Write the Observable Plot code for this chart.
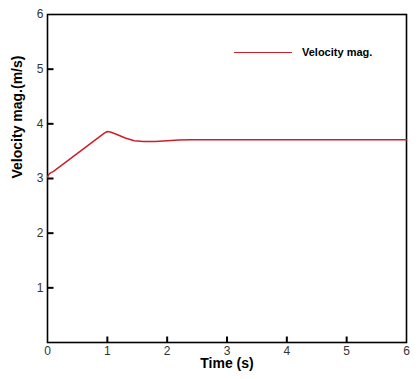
<!DOCTYPE html>
<html><head><meta charset="utf-8">
<script src="https://cdn.jsdelivr.net/npm/d3@7"></script>
<script src="https://cdn.jsdelivr.net/npm/@observablehq/plot@0.6"></script>
<style>
body{margin:0;background:#fff;font-family:"Liberation Sans",Arial,sans-serif;}
#wrap{position:relative;width:419px;height:379px;}
#legend{position:absolute;left:234px;top:46px;display:flex;align-items:center;font:bold 11px "Liberation Sans",Arial,sans-serif;color:#000;}
#legend .sw{width:58px;height:0;border-top:1.6px solid #cc1f2a;margin-right:10px;}
</style></head>
<body><div id="wrap"><div id="legend"><span class="sw"></span><span>Velocity mag.</span></div></div>
<script>
const time = [0, 0.03, 0.1, 0.5, 0.95, 1.0, 1.05, 1.15, 1.3, 1.45, 1.6, 1.8, 2.0, 2.2, 2.4, 3, 4, 5, 6];
const velocity = [3.03, 3.09, 3.13, 3.46, 3.83, 3.86, 3.85, 3.81, 3.74, 3.69, 3.675, 3.675, 3.69, 3.705, 3.71, 3.71, 3.71, 3.71, 3.71];
const xTicks = [0, 1, 2, 3, 4, 5, 6];
const yTicks = [1, 2, 3, 4, 5, 6];
const data = time.map((t, i) => ({t, v: velocity[i]}));

const upTick = {draw(ctx) { ctx.moveTo(0, 0); ctx.lineTo(0, -6); }};
const rightTick = {draw(ctx) { ctx.moveTo(0, 0); ctx.lineTo(6, 0); }};

const chart = Plot.plot({
  width: 419, height: 379,
  marginLeft: 47, marginRight: 13, marginTop: 14, marginBottom: 37,
  style: {fontFamily: '"Liberation Sans", Arial, sans-serif', fontSize: "12px", color: "#222"},
  x: {domain: [0, 6]},
  y: {domain: [0, 6]},
  marks: [
    Plot.axisX(xTicks, {tickSize: 0, tickPadding: 4, fill: "#333", fontSize: 12, label: null, tickFormat: "d"}),
    Plot.axisY(yTicks, {tickSize: 0, tickPadding: 4, fill: "#333", fontSize: 12, label: null, tickFormat: "d"}),
    Plot.dot(xTicks.slice(1, -1), {x: d => d, y: yTicks[0] - 1, symbol: upTick, r: 5, stroke: "#000", strokeWidth: 2, fill: "none"}),
    Plot.dot(yTicks.slice(0, -1), {x: xTicks[0], y: d => d, symbol: rightTick, r: 5, stroke: "#000", strokeWidth: 2, fill: "none"}),
    Plot.frame({stroke: "#000", strokeWidth: 1.6}),
    Plot.line(data, {x: "t", y: "v", stroke: "#cc1f2a", strokeWidth: 1.5}),
    Plot.text(["Time (s)"], {frameAnchor: "bottom", dy: 25, fontWeight: "bold", fontSize: 14, fill: "#000"}),
    Plot.text(["Velocity mag.(m/s)"], {frameAnchor: "left", dx: -30, rotate: -90, fontWeight: "bold", fontSize: 14, fill: "#000"})
  ]
});
document.getElementById("wrap").prepend(chart);
</script></body></html>
